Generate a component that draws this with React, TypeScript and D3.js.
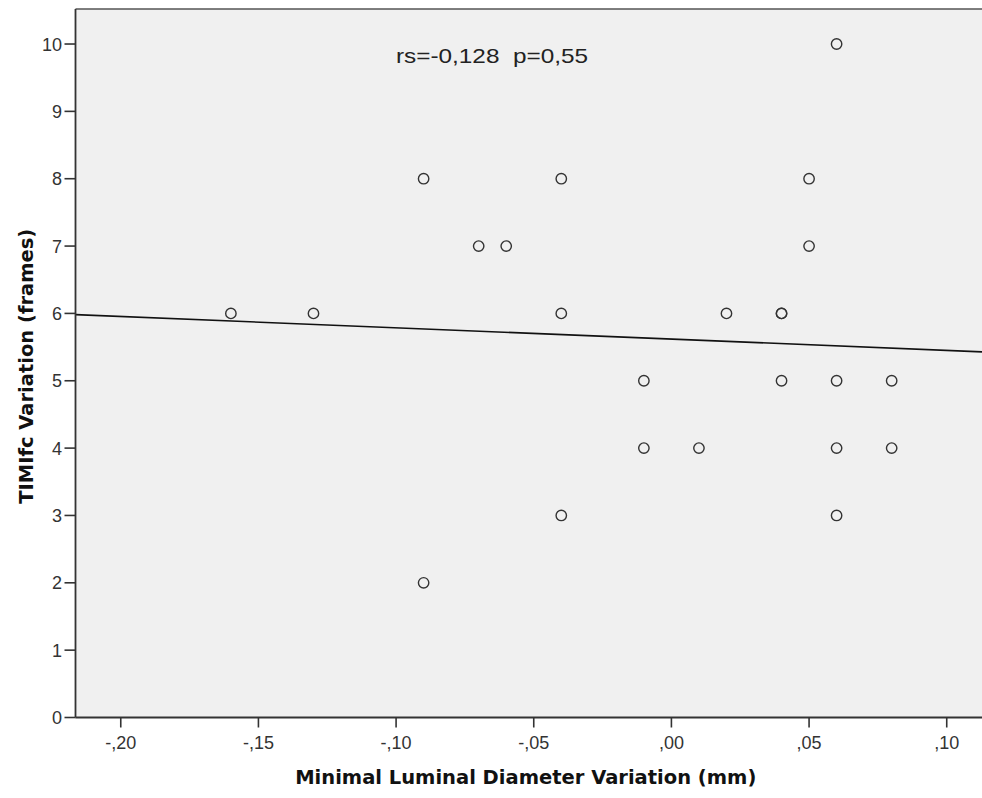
import React from "react";
import * as d3 from "d3";

const xValues = [-0.16, -0.13, -0.09, -0.09, -0.07, -0.06, -0.04, -0.04, -0.04, -0.01, -0.01, 0.01, 0.02, 0.04, 0.04, 0.04, 0.05, 0.05, 0.06, 0.06, 0.06, 0.06, 0.08, 0.08];
const yValues = [6, 6, 8, 2, 7, 7, 8, 6, 3, 5, 4, 4, 6, 6, 6, 5, 8, 7, 10, 5, 4, 3, 5, 4];
const xTicks = [-0.2, -0.15, -0.1, -0.05, 0, 0.05, 0.1];
const yTicks = [0, 1, 2, 3, 4, 5, 6, 7, 8, 9, 10];
const annotation = "rs=-0,128  p=0,55";
const xTitle = "Minimal Luminal Diameter Variation (mm)";
const yTitle = "TIMIfc Variation (frames)";

const W = 982;
const H = 798;
const left = 75.5;
const right = 982;
const top = 9;
const bottom = 717.5;

const fmtX = (v: number) => {
  const s = d3.format(".2f")(Math.abs(v) < 1e-9 ? 0 : v);
  return s.replace("\u2212", "-").replace("0.", ",");
};

export default function App() {
  const x = d3.scaleLinear().domain([-0.21644, 0.11281]).range([left, right]);
  const y = d3.scaleLinear().domain([0, 10.52]).range([bottom, top]);

  // OLS fit line
  const n = xValues.length;
  const mx = d3.mean(xValues) as number;
  const my = d3.mean(yValues) as number;
  let sxy = 0;
  let sxx = 0;
  for (let i = 0; i < n; i++) {
    sxy += (xValues[i] - mx) * (yValues[i] - my);
    sxx += (xValues[i] - mx) ** 2;
  }
  const slope = sxy / sxx;
  const intercept = my - slope * mx;
  const [d0, d1] = x.domain();
  const fit = d3.line<number>()
    .x((d) => x(d))
    .y((d) => y(intercept + slope * d))([d0, d1]);

  const tickFont = "'Liberation Sans', Arial, sans-serif";

  return (
    <svg width={W} height={H} style={{ position: "absolute", left: 0, top: 0, background: "#fff" }}>
      <rect x={left} y={top} width={right - left} height={bottom - top} fill="#f0f0f0" />
      <line x1={left} x2={right} y1={top} y2={top} stroke="#555" strokeWidth={1.3} />
      <path d={fit || ""} stroke="#111" strokeWidth={1.6} fill="none" />
      {xValues.map((xv, i) => (
        <circle key={i} cx={x(xv)} cy={y(yValues[i])} r={5.2} fill="none" stroke="#333" strokeWidth={1.4} />
      ))}
      <line x1={left} x2={left} y1={top} y2={bottom} stroke="#333" strokeWidth={1.8} />
      <line x1={left} x2={right} y1={bottom} y2={bottom} stroke="#333" strokeWidth={1.8} />
      {yTicks.map((t) => (
        <g key={"y" + t}>
          <line x1={left - 11} x2={left} y1={y(t)} y2={y(t)} stroke="#333" strokeWidth={1.6} />
          <text x={62} y={y(t)} dy="0.36em" textAnchor="end" fontFamily={tickFont} fontSize={18} fill="#333">
            {t}
          </text>
        </g>
      ))}
      {xTicks.map((t) => (
        <g key={"x" + t}>
          <line x1={x(t)} x2={x(t)} y1={bottom} y2={bottom + 10} stroke="#333" strokeWidth={1.6} />
          <text x={x(t)} y={748.5} textAnchor="middle" fontFamily={tickFont} fontSize={18} fill="#333">
            {fmtX(t)}
          </text>
        </g>
      ))}
      <text x={396} y={63} fontFamily={tickFont} fontSize={21} fill="#222" textLength={192} lengthAdjust="spacingAndGlyphs" style={{ whiteSpace: "pre" }}>
        {annotation}
      </text>
      <text x={(left + right) / 2 - 3} y={783.5} textAnchor="middle" fontFamily="'DejaVu Sans', sans-serif" fontWeight="bold" fontSize={19.5} fill="#111">
        {xTitle}
      </text>
      <text transform={`translate(33, ${(top + bottom) / 2 + 3}) rotate(-90)`} textAnchor="middle" fontFamily="'DejaVu Sans', sans-serif" fontWeight="bold" fontSize={19.5} fill="#111">
        {yTitle}
      </text>
    </svg>
  );
}
